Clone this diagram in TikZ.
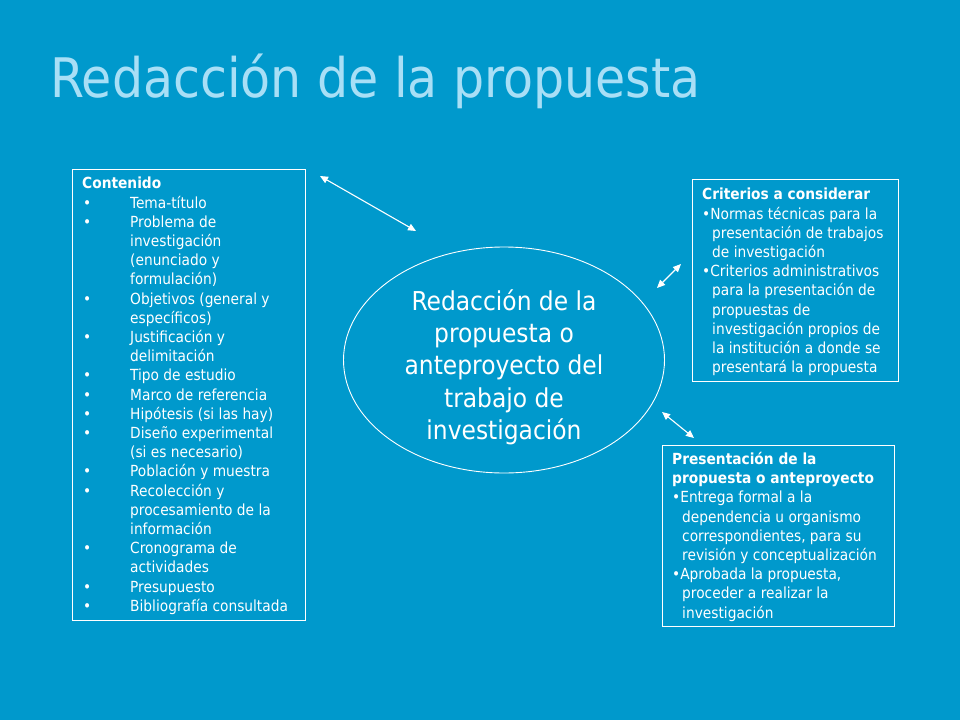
\documentclass[tikz,border=0pt]{standalone}
\usepackage{fontspec}
\setmainfont{DejaVu Sans Condensed}
\usetikzlibrary{arrows.meta,shapes.geometric}
\definecolor{bg}{HTML}{0099CC}
\definecolor{ttl}{HTML}{A8DFF6}
\newcommand{\bul}[1]{\makebox[48pt][l]{\hspace{1pt}•}#1}
\newcommand{\cnt}[1]{\hspace*{48pt}#1}
\newcommand{\rb}[1]{•#1}
\newcommand{\rc}[1]{\hspace*{10pt}#1}
\begin{document}
\begin{tikzpicture}[x=1pt,y=-1pt,
  box/.style={draw=white, line width=0.9pt, anchor=north west, inner sep=0pt},
  txt/.style={anchor=north west, inner sep=0pt, text=white, align=left, font=\fontsize{15.3}{19.2}\selectfont},
  dbl/.style={white, line width=1.1pt, {Triangle[width=7pt,length=8pt]}-{Triangle[width=7pt,length=8pt]}},
]
\fill[bg] (0,0) rectangle (960,720);
\useasboundingbox (0,0) rectangle (960,720);
\node[anchor=base west, text=ttl, font=\fontsize{54.5}{60}\selectfont, inner sep=0pt] (title) at (50,97) {Redacción de la propuesta};

\node[box, minimum width=233pt, minimum height=451pt] (cont) at (72,169) {};
\node[txt] (conttxt) at (82,177) {\textbf{Contenido}\\
\bul{Tema-título}\\
\bul{Problema de}\\
\cnt{investigación}\\
\cnt{(enunciado y}\\
\cnt{formulación)}\\
\bul{Objetivos (general y}\\
\cnt{específicos)}\\
\bul{Justificación y}\\
\cnt{delimitación}\\
\bul{Tipo de estudio}\\
\bul{Marco de referencia}\\
\bul{Hipótesis (si las hay)}\\
\bul{Diseño experimental}\\
\cnt{(si es necesario)}\\
\bul{Población y muestra}\\
\bul{Recolección y}\\
\cnt{procesamiento de la}\\
\cnt{información}\\
\bul{Cronograma de}\\
\cnt{actividades}\\
\bul{Presupuesto}\\
\bul{Bibliografía consultada}};

\node[box, minimum width=206pt, minimum height=202pt] (crit) at (692,179) {};
\node[txt] (crittxt) at (702,188) {\textbf{Criterios a considerar}\\
\rb{Normas técnicas para la}\\
\rc{presentación de trabajos}\\
\rc{de investigación}\\
\rb{Criterios administrativos}\\
\rc{para la presentación de}\\
\rc{propuestas de}\\
\rc{investigación propios de}\\
\rc{la institución a donde se}\\
\rc{presentará la propuesta}};

\node[box, minimum width=232pt, minimum height=181pt] (pres) at (662,445) {};
\node[txt] (prestxt) at (672,452) {\textbf{Presentación de la}\\
\textbf{propuesta o anteproyecto}\\
\rb{Entrega formal a la}\\
\rc{dependencia u organismo}\\
\rc{correspondientes, para su}\\
\rc{revisión y conceptualización}\\
\rb{Aprobada la propuesta,}\\
\rc{proceder a realizar la}\\
\rc{investigación}};

\node[draw=white, line width=0.9pt, ellipse, inner sep=0pt, minimum width=321pt, minimum height=226pt] (ell) at (504,360) {};
\node[text=white, align=center, inner sep=0pt, font=\fontsize{26}{32.3}\selectfont] (elltxt) at (504,367) {Redacción de la\\propuesta o\\anteproyecto del\\trabajo de\\investigación};

\coordinate (a1s) at (320,176);
\coordinate (a1e) at (416,231);
\coordinate (a2s) at (657,288);
\coordinate (a2e) at (681,264);
\coordinate (a3s) at (662,412);
\coordinate (a3e) at (694,438);
\draw[dbl] (a1s) -- (a1e);
\draw[dbl] (a2s) -- (a2e);
\draw[dbl] (a3s) -- (a3e);
\end{tikzpicture}
\end{document}
